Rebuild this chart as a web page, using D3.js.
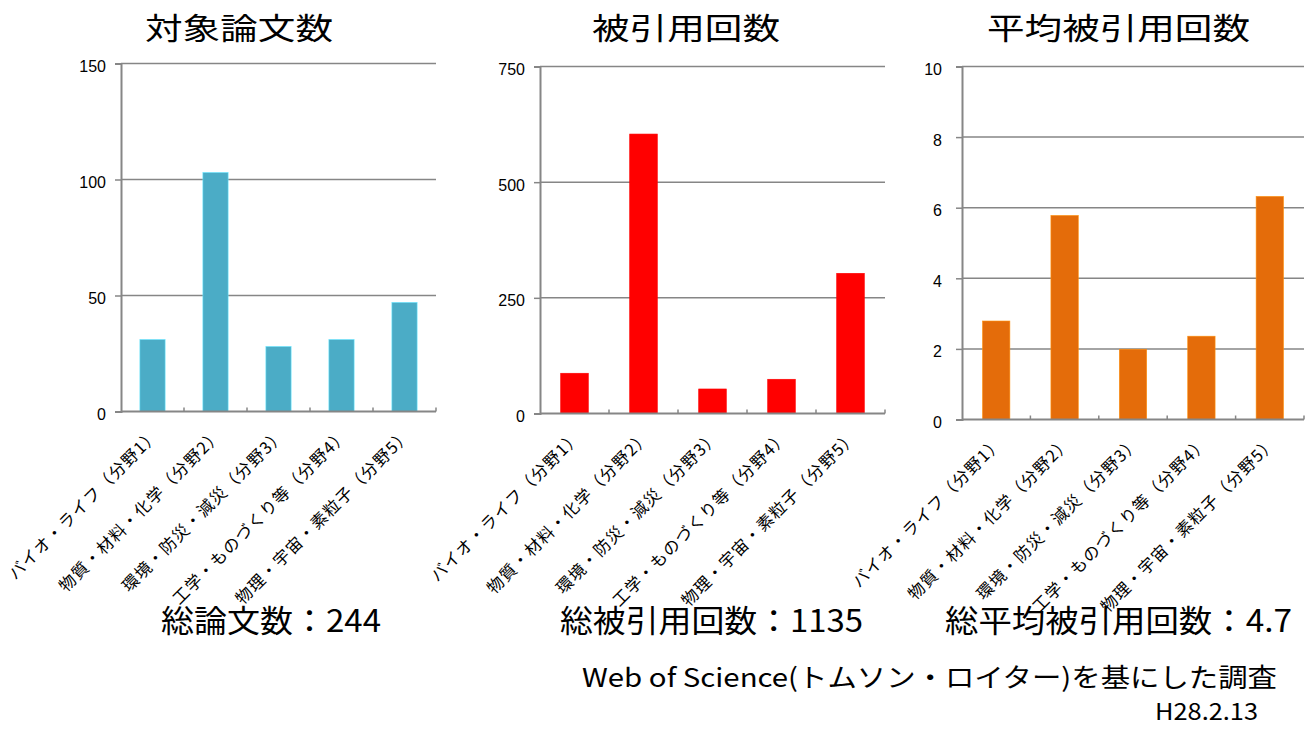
<!DOCTYPE html>
<html><head><meta charset="utf-8">
<script src="https://cdn.jsdelivr.net/npm/d3@7"></script>
<style>
html,body{margin:0;padding:0;background:#fff;}
svg{display:block;}
text{font-family:"Noto Sans CJK JP","Noto Sans",sans-serif;fill:#000;}
</style></head>
<body>
<svg id="chart" width="1311" height="729"></svg>
<script>
// ---- data ----
const categories = [
  "バイオ・ライフ（分野1）",
  "物質・材料・化学（分野2）",
  "環境・防災・減災（分野3）",
  "工学・ものづくり等（分野4）",
  "物理・宇宙・素粒子（分野5）"
];
const paperCounts = [31, 103, 28, 31, 47];
const citationCounts = [87, 604, 53, 74, 303];
const avgCitations = [2.79, 5.78, 1.99, 2.36, 6.32];
const paperTicks = [0, 50, 100, 150];
const citationTicks = [0, 250, 500, 750];
const avgTicks = [0, 2, 4, 6, 8, 10];
const titles = ["対象論文数", "被引用回数", "平均被引用回数"];
const totals = ["総論文数：244", "総被引用回数：1135", "総平均被引用回数：4.7"];
const sourceNote = "Web of Science(トムソン・ロイター)を基にした調査";
const dateNote = "H28.2.13";

// ---- layout ----
const panels = [
  {values: paperCounts, ticks: paperTicks, color: "#4BACC6", x0: 121, x1: 436, yTop: 63.5, yBot: 411.5,
   title: titles[0], tx: 145, tw: 188, total: totals[0], sx: 161, sw: 220, labGap: 15},
  {values: citationCounts, ticks: citationTicks, color: "#FF0000", x0: 540, x1: 885, yTop: 66.5, yBot: 413.5,
   title: titles[1], tx: 592, tw: 188, total: totals[1], sx: 560, sw: 303, labGap: 15},
  {values: avgCitations, ticks: avgTicks, color: "#E46C0A", x0: 962, x1: 1304, yTop: 66.5, yBot: 419.5,
   title: titles[2], tx: 987, tw: 263, total: totals[2], sx: 945, sw: 347, labGap: 20}
];

const svg = d3.select("#chart");
const axisColor = "#868686";

panels.forEach(p => {
  const g = svg.append("g");
  const x = d3.scaleBand().domain(categories).range([p.x0, p.x1]).paddingInner(0.6).paddingOuter(0.3);
  const y = d3.scaleLinear().domain([0, d3.max(p.ticks)]).range([p.yBot, p.yTop]);
  const step = x.step();

  // gridlines
  g.selectAll(".grid").data(p.ticks.filter(t => t > 0)).join("line")
    .attr("x1", p.x0).attr("x2", p.x1)
    .attr("y1", d => y(d)).attr("y2", d => y(d))
    .attr("stroke", axisColor).attr("stroke-width", 1.5);

  // y axis
  const yAxis = d3.axisLeft(y).tickValues(p.ticks).tickSize(6).tickPadding(p.labGap - 6);
  const ya = g.append("g").attr("transform", `translate(${p.x0},0)`).call(yAxis);
  ya.select(".domain").attr("stroke", axisColor).attr("stroke-width", 2);
  ya.selectAll(".tick line").attr("stroke", axisColor).attr("stroke-width", 1.5);
  ya.selectAll(".tick text").style("font-size", "16px").attr("dy", "0.5em")
    .style("font-family", '"Liberation Sans",Arial,sans-serif').attr("fill", "#000");

  // bars
  g.selectAll(".bar").data(p.values).join("rect")
    .attr("x", (d, i) => x(categories[i]))
    .attr("width", x.bandwidth())
    .attr("y", d => y(d))
    .attr("height", d => y(0) - y(d))
    .attr("fill", p.color)
    .attr("stroke", d3.color(p.color).brighter(0.8)).attr("stroke-width", 0.6);

  // x axis line
  g.append("line").attr("x1", p.x0).attr("x2", p.x1).attr("y1", y(0)).attr("y2", y(0))
    .attr("stroke", axisColor).attr("stroke-width", 2);
  // x tick marks at band boundaries
  g.selectAll(".xt").data(d3.range(1, categories.length + 1)).join("line")
    .attr("x1", i => p.x0 + i * step).attr("x2", i => p.x0 + i * step)
    .attr("y1", y(0)).attr("y2", y(0) - 4)
    .attr("stroke", axisColor).attr("stroke-width", 1.5);

  // rotated category labels
  g.selectAll(".xl").data(categories).join("text")
    .attr("transform", d => `translate(${x(d) + x.bandwidth() / 2 + 8},${y(0) + 24}) rotate(-45)`)
    .attr("text-anchor", "end")
    .style("font-size", "16.5px")
    .style("letter-spacing", "1.2px")
    .text(d => d);

  // title
  g.append("text").attr("x", p.tx).attr("y", 39)
    .attr("textLength", p.tw).attr("lengthAdjust", "spacingAndGlyphs")
    .style("font-size", "30px").text(p.title);
});

// totals drawn on top
panels.forEach(p => {
  svg.append("text").attr("x", p.sx).attr("y", 632)
    .attr("textLength", p.sw).attr("lengthAdjust", "spacingAndGlyphs")
    .style("font-size", "31px").text(p.total);
});

svg.append("text").attr("x", 582).attr("y", 687)
  .attr("textLength", 695).attr("lengthAdjust", "spacingAndGlyphs")
  .style("font-size", "26px").text(sourceNote);
svg.append("text").attr("x", 1155).attr("y", 720)
  .attr("textLength", 103).attr("lengthAdjust", "spacingAndGlyphs")
  .style("font-size", "23px").text(dateNote);
</script>
</body></html>
